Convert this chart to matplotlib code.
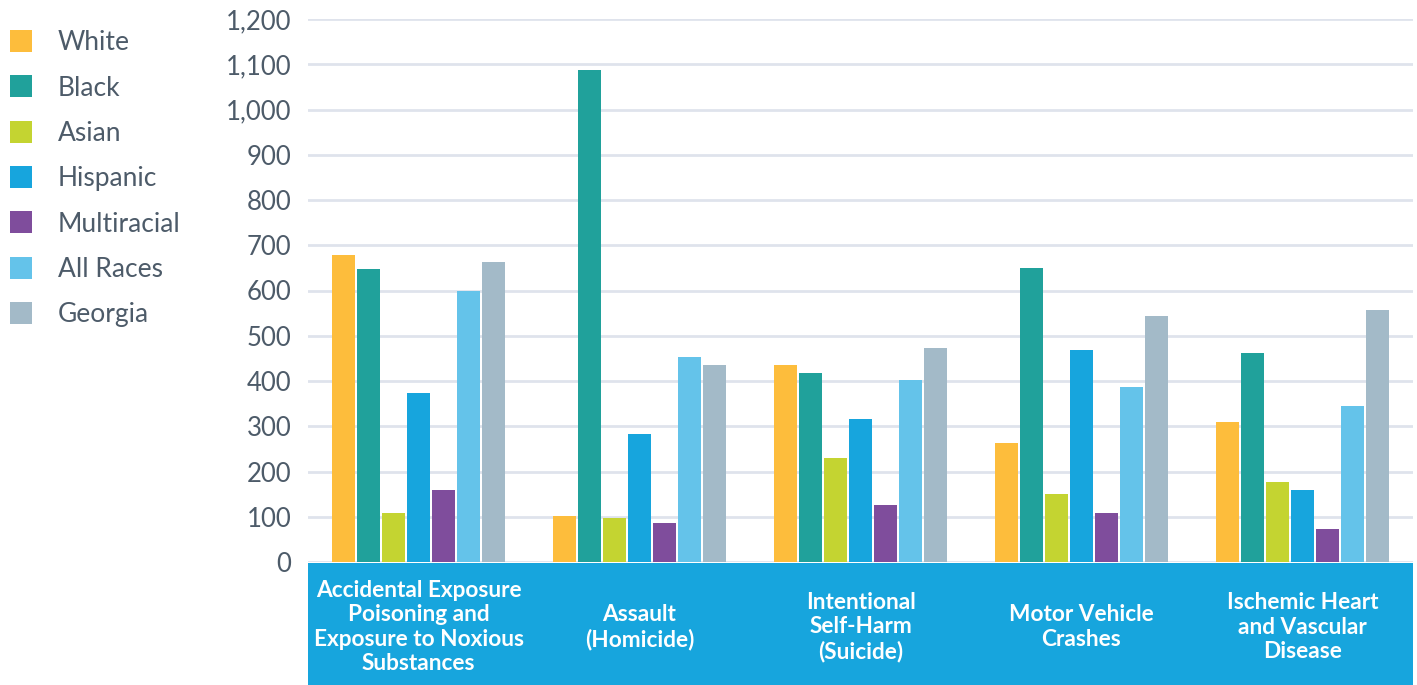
import numpy as np
import matplotlib.pyplot as plt
from matplotlib.patches import Rectangle
from matplotlib.transforms import blended_transform_factory

plt.rcParams['font.family'] = ['Lato', 'DejaVu Sans']

# Rates by cause of death and race
causes = ['Accidental Exposure\nPoisoning and\nExposure to Noxious\nSubstances',
          'Assault\n(Homicide)',
          'Intentional\nSelf-Harm\n(Suicide)',
          'Motor Vehicle\nCrashes',
          'Ischemic Heart\nand Vascular\nDisease']
groups = ['White', 'Black', 'Asian', 'Hispanic', 'Multiracial', 'All Races', 'Georgia']
white = [678, 102, 435, 263, 309]
black = [647, 1088, 417, 649, 461]
asian = [108, 97, 230, 150, 177]
hispanic = [373, 283, 316, 468, 159]
multiracial = [159, 86, 126, 108, 73]
all_races = [600, 452, 402, 386, 344]
georgia = [664, 435, 472, 543, 556]
yticks = [0, 100, 200, 300, 400, 500, 600, 700, 800, 900, 1000, 1100, 1200]

series = [white, black, asian, hispanic, multiracial, all_races, georgia]
colors = ['#fdbd3c', '#20a19b', '#c4d431', '#17a5dd', '#7f4d9c', '#64c3ea', '#a3bac8']
text_col = '#4d5b69'

W, H = 1417, 685
fig = plt.figure(figsize=(W / 100, H / 100), dpi=100)
ax = fig.add_axes([308 / W, 123 / H, 1105 / W, 543 / H])

x = np.arange(len(causes))
slot = 25 / 221
for j, (vals, c) in enumerate(zip(series, colors)):
    ax.bar(x + (j - 3) * slot, vals, width=23 / 221, color=c, zorder=3)

ax.set_xlim(-0.5, len(causes) - 0.5)
ax.set_ylim(0, 1200)
ax.set_yticks(yticks)
ax.set_yticklabels([f'{v:,}' for v in yticks], fontsize=18.5, color=text_col)
ax.tick_params(axis='y', length=0, pad=12)
ax.set_xticks([])
ax.grid(axis='y', color='#dfe3ec', linewidth=2, zorder=0)
for s in ax.spines.values():
    s.set_visible(False)

# blue band under the bars holding the category names
trans = blended_transform_factory(ax.transAxes, fig.transFigure)
ax.add_patch(Rectangle((0, 0), 1, 122 / H, transform=trans, facecolor='#17a5dd',
                       edgecolor='none', clip_on=False, zorder=4))
ltrans = blended_transform_factory(ax.transData, fig.transFigure)
for i, name in enumerate(causes):
    ax.text(i, 58 / H, name, transform=ltrans, ha='center', va='center',
            fontsize=16.3, fontweight='bold', color='white', linespacing=1.18,
            clip_on=False, zorder=5)

# legend down the left side
for k, (name, c) in enumerate(zip(groups, colors)):
    yc = (H - 41 - k * 45.3) / H
    fig.patches.append(Rectangle((10 / W, yc - 11 / H), 22 / W, 22 / H,
                                 transform=fig.transFigure, facecolor=c, edgecolor='none'))
    fig.text(58 / W, yc - 2 / H, name, fontsize=19, color=text_col, va='center', ha='left')

fig.savefig('out.png', dpi=100)
